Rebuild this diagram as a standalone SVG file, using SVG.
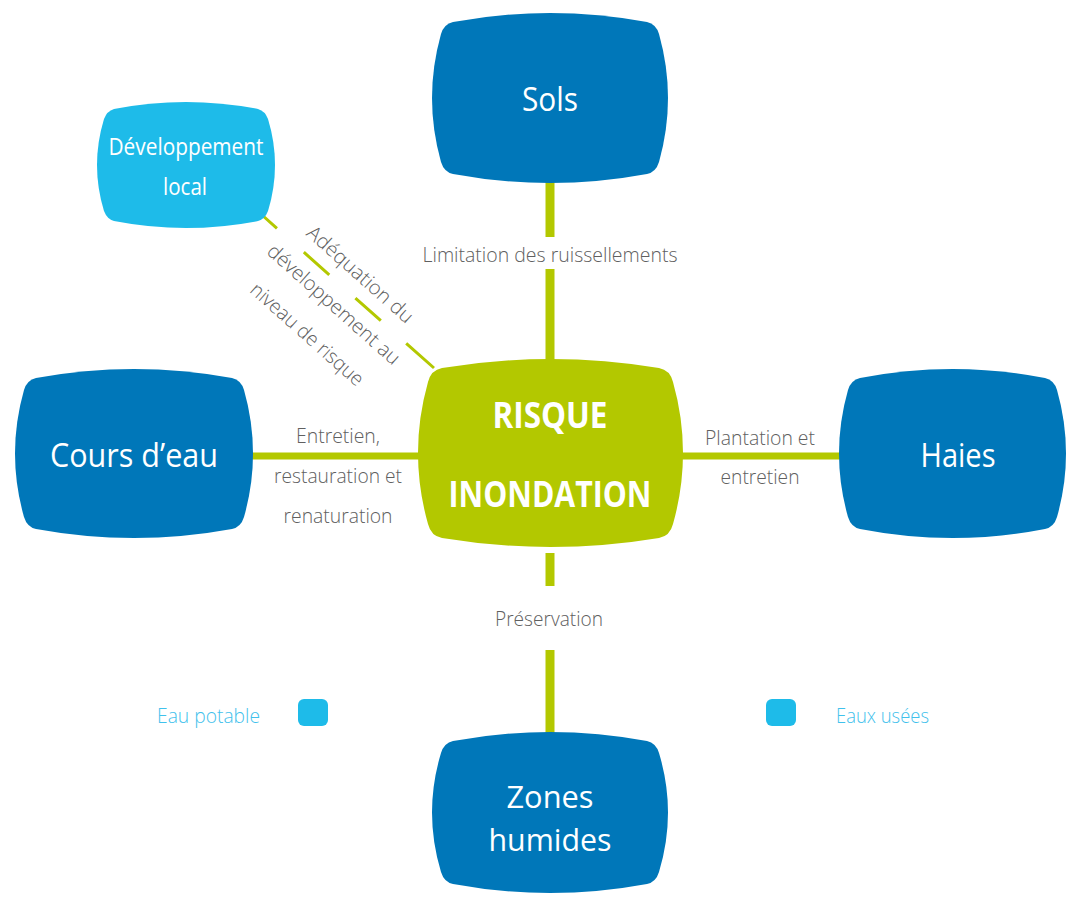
<svg xmlns="http://www.w3.org/2000/svg" width="1068" height="897" viewBox="0 0 1068 897">
<style>
.dark{fill:#0077B9}
.light{fill:#1EBBE9}
.green{fill:#B3C800}
.cv{stroke:#B3C800;stroke-width:9;fill:none}
.ch{stroke:#B3C800;stroke-width:7;fill:none}
.cd{stroke:#B3C800;stroke-width:3;fill:none}
.nt{font-family:"Open Sans","Liberation Sans",sans-serif;fill:#ffffff;font-size:33px;text-anchor:middle}
.ct{font-family:"Open Sans","Liberation Sans",sans-serif;fill:#ffffff;font-size:35px;font-weight:bold;text-anchor:middle}
.lbl{font-family:"Open Sans","Liberation Sans",sans-serif;fill:#606060;font-size:20px;font-weight:300;text-anchor:middle}
.leg{font-family:"Open Sans","Liberation Sans",sans-serif;fill:#3FC1EC;font-size:21px;font-weight:300}
</style>
<rect width="1068" height="897" fill="#ffffff"/>
<g id="connectors">
  <line class="cv" x1="550" y1="175" x2="550" y2="237"/>
  <line class="cv" x1="550" y1="269" x2="550" y2="365"/>
  <line class="cv" x1="550" y1="553" x2="550" y2="586"/>
  <line class="cv" x1="550" y1="650" x2="550" y2="738"/>
  <line class="ch" x1="248" y1="456" x2="424" y2="456"/>
  <line class="ch" x1="678" y1="456" x2="845" y2="456"/>
  <line class="cd" x1="262" y1="215" x2="434" y2="368" stroke-dasharray="20 36 34 35 34 34 50"/>
  <text class="lbl" x="550" y="262" textLength="255" lengthAdjust="spacingAndGlyphs">Limitation des ruissellements</text>
  <text class="lbl" x="338" y="443" textLength="84" lengthAdjust="spacingAndGlyphs">Entretien,</text>
  <text class="lbl" x="338" y="483" textLength="128" lengthAdjust="spacingAndGlyphs">restauration et</text>
  <text class="lbl" x="338" y="523" textLength="109" lengthAdjust="spacingAndGlyphs">renaturation</text>
  <text class="lbl" x="760" y="445" textLength="110" lengthAdjust="spacingAndGlyphs">Plantation et</text>
  <text class="lbl" x="760" y="484" textLength="79" lengthAdjust="spacingAndGlyphs">entretien</text>
  <text class="lbl" x="549" y="626" textLength="108" lengthAdjust="spacingAndGlyphs">Préservation</text>
  <g transform="translate(262,215) rotate(41.6)">
    <text class="lbl" x="113" y="-14" textLength="135" lengthAdjust="spacingAndGlyphs">Adéquation du</text>
    <text class="lbl" x="113" y="26" textLength="170" lengthAdjust="spacingAndGlyphs">développement au</text>
    <text class="lbl" x="113" y="66" textLength="144" lengthAdjust="spacingAndGlyphs">niveau de risque</text>
  </g>
</g>
<g id="sols">
  <path class="dark" d="M453,22 Q550,4 647,22 Q656,24 659,34 Q677,98 659,162 Q656,172 647,174 Q550,192 453,174 Q444,172 441,162 Q423,98 441,34 Q444,24 453,22 Z"/>
  <text class="nt" x="550" y="111" textLength="56" lengthAdjust="spacingAndGlyphs">Sols</text>
</g>
<g id="risque-inondation">
  <path class="green" d="M442,368 Q550.5,350 659,368 Q670,370 673,382 Q693,453 673,524 Q670,536 659,538 Q550.5,556 442,538 Q431,536 428,524 Q408,453 428,382 Q431,370 442,368 Z"/>
  <text class="ct" x="550" y="428" textLength="115" lengthAdjust="spacingAndGlyphs">RISQUE</text>
  <text class="ct" x="550" y="507" textLength="203" lengthAdjust="spacingAndGlyphs">INONDATION</text>
</g>
<g id="cours-deau">
  <path class="dark" d="M36,378 Q134,360 232,378 Q241,380 244,390 Q262,453.5 244,517 Q241,527 232,529 Q134,547 36,529 Q27,527 24,517 Q6,453.5 24,390 Q27,380 36,378 Z"/>
  <text class="nt" x="134" y="467" textLength="168" lengthAdjust="spacingAndGlyphs">Cours d’eau</text>
</g>
<g id="haies">
  <path class="dark" d="M860,378 Q952.5,360 1045,378 Q1054,380 1057,390 Q1075,453.5 1057,517 Q1054,527 1045,529 Q952.5,547 860,529 Q851,527 848,517 Q830,453.5 848,390 Q851,380 860,378 Z"/>
  <text class="nt" x="958" y="467" textLength="75" lengthAdjust="spacingAndGlyphs">Haies</text>
</g>
<g id="zones-humides">
  <path class="dark" d="M453,741 Q550,723 647,741 Q656,743 659,753 Q677,812.5 659,872 Q656,882 647,884 Q550,902 453,884 Q444,882 441,872 Q423,812.5 441,753 Q444,743 453,741 Z"/>
  <text class="nt" x="550" y="808" style="font-size:31px" textLength="87" lengthAdjust="spacingAndGlyphs">Zones</text>
  <text class="nt" x="550" y="851" style="font-size:31px" textLength="123" lengthAdjust="spacingAndGlyphs">humides</text>
</g>
<g id="developpement-local">
  <path class="light" d="M114,109 Q186,95 258,109 Q265,111 268,119 Q282,165 268,211 Q265,219 258,221 Q186,235 114,221 Q107,219 104,211 Q90,165 104,119 Q107,111 114,109 Z"/>
  <text class="nt" x="186" y="155" style="font-size:24px" textLength="155" lengthAdjust="spacingAndGlyphs">Développement</text>
  <text class="nt" x="185" y="195" style="font-size:24px" textLength="44" lengthAdjust="spacingAndGlyphs">local</text>
</g>
<g id="legend-eau-potable">
  <text class="leg" x="157" y="723" textLength="103" lengthAdjust="spacingAndGlyphs">Eau potable</text>
  <rect class="light" x="298" y="699" width="30" height="27" rx="6"/>
</g>
<g id="legend-eaux-usees">
  <rect class="light" x="766" y="699" width="30" height="27" rx="6"/>
  <text class="leg" x="836" y="723" textLength="93" lengthAdjust="spacingAndGlyphs">Eaux usées</text>
</g>
</svg>
